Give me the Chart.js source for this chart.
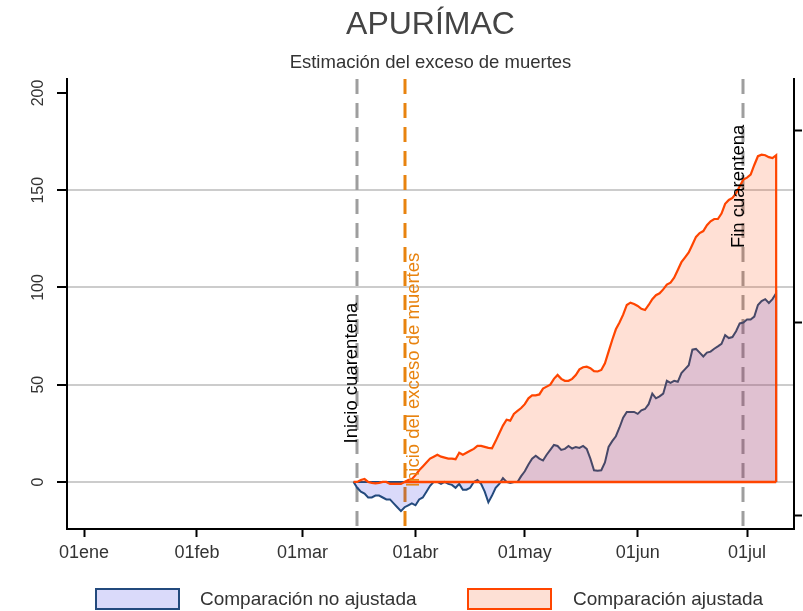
<!DOCTYPE html>
<html>
<head>
<meta charset="utf-8">
<script src="https://cdn.jsdelivr.net/npm/chart.js@4.4.1/dist/chart.umd.min.js"></script>
<style>
html,body{margin:0;padding:0;background:#fff;}
#wrap{position:relative;width:803px;height:611px;overflow:hidden;}
#c{position:absolute;left:0;top:0;}
.lg-box{position:absolute;top:588px;width:85px;height:22px;box-sizing:border-box;border:2px solid;}
.lg-txt{position:absolute;top:588px;height:22px;line-height:22px;font-family:"Liberation Sans",Arial,sans-serif;font-size:19px;color:#333;white-space:nowrap;}
</style>
</head>
<body>
<div id="wrap">
<canvas id="c" width="803" height="611"></canvas>
<div class="lg-box" style="left:95px;background:rgb(218,218,250);border-color:#234a7d;"></div>
<div class="lg-txt" style="left:200px;">Comparación no ajustada</div>
<div class="lg-box" style="left:467px;background:rgb(253,224,213);border-color:#ff4500;"></div>
<div class="lg-txt" style="left:573px;">Comparación ajustada</div>
</div>
<script>
// ---- Data (day index: 0 = 01ene 2020) ----
const primerDia = 74; // 15mar
const comparacionNoAjustada = [
  0,-3,-5,-6,-8,-8,-7,-7,-8,-9,
  -9,-11,-13,-15,-13,-12,-11,-12,-9,-8,
  -5,-2,0,0,-1,0,-1,-1.5,-3,-1,
  -4,-4,-3,0,1,-1,-5,-10.5,-7,-3,
  -1,2,0,-0.5,0,0,3,5.5,9,12,
  13.5,12,11,14,16.5,19,18.5,16.5,17,18.5,
  17.2,18,17.5,18.5,17,12,6,5.8,6,10,
  18,21,23.5,28,33,36,36,36,35,36.8,
  37.5,40,45.4,43,44,45.4,52,51,52,51.5,
  56,58,60,68,68.4,66.5,64.5,66.5,67,68.5,
  69.7,71,75.5,74,74.5,77.5,81.5,82,83.5,83.5,
  85,91,93,94,92,94,97
];
const comparacionAjustada = [
  0,0,1,1.5,0,-0.5,-0.7,-0.5,0,0,
  -1,-1,-1,-1,0,1,1.5,3.5,6,8,
  10,12,13,14,13,12.5,12,12,11.7,15,
  14,15,16,17,18.5,18.5,18,17.5,17.3,21,
  25,29,32,31.5,35,36.5,38,40,43,44.5,
  44.5,45,48,49,50,53,55,53,52,52,
  53,55,57.9,59,59.3,58.5,57,56.8,57.6,61,
  67,73,78.5,82,86,91,92.2,91.5,90.5,89,
  88.4,91,94,96,97,99,101.5,102.5,105,109,
  113,115.5,118,122,126,128,129,132,134,135.2,
  135.2,138,143,145,146,148.5,152,155.5,156.5,158,
  163,167.5,168.3,168,167,166.5,168
];
const tickDays = [0, 31, 60, 91, 121, 152, 182];
const tickLabels = ['01ene','01feb','01mar','01abr','01may','01jun','01jul'];
const yTicks = [0, 50, 100, 150, 200];
const y2Ticks = [0, 1, 2];
const eventDays = [75, 88, 181];
const eventLabels = ['Inicio cuarentena', 'Inicio del exceso de muertes', 'Fin cuarentena'];
const eventLabelY = [56, 57.6, 152];

// ---- styles ----
const FONT = '"Liberation Sans", Arial, Helvetica, sans-serif';
const eventLineColors = ['#9e9e9e', '#e8830f', '#9e9e9e'];
const eventTextColors = ['#000000', '#e8830f', '#000000'];
const eventLabelDx = [0, 14, 1];
const BLUE = '#234a7d', BLUE_FILL = 'rgba(50,50,228,0.18)';
const ORANGE = '#ff4500', ORANGE_FILL = 'rgba(255,69,0,0.165)';

Chart.defaults.font.family = FONT;
Chart.defaults.color = '#333';

const toPts = arr => arr.map((v, i) => ({x: primerDia + i, y: v}));
const ultimoDia = primerDia + comparacionAjustada.length - 1;

const azulPts = toPts(comparacionNoAjustada);
const naranjaPts = toPts(comparacionAjustada);

const eventosPlugin = {
  id: 'eventos',
  beforeDatasetsDraw(chart) {
    const {ctx, chartArea: a, scales: {x}} = chart;
    ctx.save();
    eventDays.forEach((d, i) => {
      const px = Math.round(x.getPixelForValue(d));
      ctx.strokeStyle = eventLineColors[i];
      ctx.lineWidth = 3;
      ctx.setLineDash([15, 9]);
      ctx.beginPath();
      ctx.moveTo(px, a.top);
      ctx.lineTo(px, a.bottom);
      ctx.stroke();
    });
    ctx.restore();
  },
  afterDatasetsDraw(chart) {
    const {ctx, scales: {x, y}} = chart;
    eventLabels.forEach((t, i) => {
      const px = Math.round(x.getPixelForValue(eventDays[i])) + eventLabelDx[i];
      const py = y.getPixelForValue(eventLabelY[i]);
      ctx.save();
      ctx.translate(px, py);
      ctx.rotate(-Math.PI / 2);
      ctx.font = '18.5px ' + FONT;
      ctx.textAlign = 'center';
      ctx.textBaseline = 'alphabetic';
      ctx.fillStyle = eventTextColors[i];
      ctx.fillText(t, 0, 0);
      ctx.restore();
    });
  }
};

new Chart(document.getElementById('c'), {
  type: 'line',
  data: {
    datasets: [
      { label: 'Comparación no ajustada', data: [...azulPts, {x: ultimoDia, y: 0}],
        borderColor: BLUE, backgroundColor: BLUE_FILL, borderWidth: 2, fill: 'origin',
        pointRadius: 0, tension: 0, order: 4, xAxisID: 'x', yAxisID: 'y' },
      { label: 'base azul', data: [{x: primerDia, y: 0}, {x: ultimoDia, y: 0}],
        borderColor: BLUE, borderWidth: 2, fill: false, pointRadius: 0, order: 3, xAxisID: 'x', yAxisID: 'y' },
      { label: 'Comparación ajustada', data: [...naranjaPts, {x: ultimoDia, y: 0}],
        borderColor: ORANGE, backgroundColor: ORANGE_FILL, borderWidth: 2.2, fill: 'origin',
        pointRadius: 0, tension: 0, order: 2, xAxisID: 'x', yAxisID: 'y' },
      { label: 'base naranja', data: [{x: eventDays[1], y: 0}, {x: ultimoDia, y: 0}],
        borderColor: ORANGE, borderWidth: 2.5, fill: false, pointRadius: 0, order: 1, xAxisID: 'x', yAxisID: 'y' }
    ]
  },
  options: {
    responsive: false,
    animation: false,
    devicePixelRatio: 1,
    events: [],
    layout: { padding: { top: 0, left: 0, right: 0, bottom: 40 } },
    plugins: {
      legend: { display: false },
      tooltip: { enabled: false },
      title: { display: true, text: 'APURÍMAC', fullSize: false, color: '#444',
        font: { size: 32, weight: 'normal' }, padding: { top: 6, bottom: 7 } },
      subtitle: { display: true, text: 'Estimación del exceso de muertes', fullSize: false, color: '#333',
        font: { size: 18.5, weight: 'normal' }, padding: { top: 0, bottom: 5.4 } }
    },
    scales: {
      x: {
        type: 'linear', position: 'bottom', min: -4.67, max: 194.9,
        afterBuildTicks: s => { s.ticks = tickDays.map(v => ({value: v})); },
        afterFit: s => { s.height = 42; },
        ticks: { callback: (v, i) => tickLabels[i], font: { size: 18 }, color: '#333',
          padding: 5, maxRotation: 0, autoSkip: false },
        grid: { drawOnChartArea: false, drawTicks: true, tickLength: 8, tickColor: '#000', tickWidth: 2 },
        border: { display: true, color: '#000', width: 2 }
      },
      y: {
        position: 'left', min: -24.2, max: 207.2,
        afterBuildTicks: s => { s.ticks = yTicks.map(v => ({value: v})); },
        afterFit: s => { s.width = 67; },
        ticks: { font: { size: 16 }, color: '#333', minRotation: 90, maxRotation: 90,
          crossAlign: 'center', padding: 5 },
        grid: { color: c => (c.tick && c.tick.value === 200) ? 'rgba(0,0,0,0)' : '#cccccc',
          lineWidth: 2, tickColor: '#000', tickLength: 10, tickWidth: 2 },
        border: { display: true, color: '#000', width: 2 }
      },
      y2: {
        position: 'right', min: -0.0729, max: 2.2708,
        afterBuildTicks: s => { s.ticks = y2Ticks.map(v => ({value: v})); },
        afterFit: s => { s.width = 9; },
        ticks: { callback: () => '', padding: 0 },
        grid: { drawOnChartArea: false, tickColor: '#000', tickLength: 8, tickWidth: 2 },
        border: { display: true, color: '#000', width: 2 }
      }
    }
  },
  plugins: [eventosPlugin]
});
</script>
</body>
</html>
